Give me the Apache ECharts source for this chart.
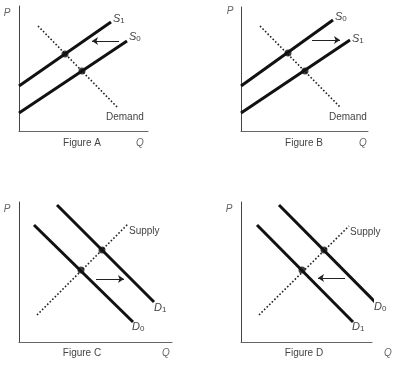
<!DOCTYPE html>
<html><head><meta charset="utf-8">
<script src="https://cdn.jsdelivr.net/npm/echarts@6/dist/echarts.min.js"></script>
<style>html,body{margin:0;padding:0;background:#fff}#c{width:399px;height:374px}</style>
</head><body><div id="c"></div>
<script>
// Data in each panel's own (Q, P) units.
// Figure A: supply decreases (S0 -> S1, shift left)
const aS0 = [[0,18],[108,90]];
const aS1 = [[0,45],[92,109]];
const aDemand = [[19,105],[99,23]];
const aEquilibria = [[46,77],[63,60]];
const aArrow = [[100,90],[73,90]];
// Figure B: supply increases (S0 -> S1, shift right)
const bS0 = [[0,45],[92,111]];
const bS1 = [[0,18],[109,91]];
const bDemand = [[19,105],[100,23]];
const bEquilibria = [[47,78],[64,60]];
const bArrow = [[71,91],[99,91]];
// Figure C: demand increases (D0 -> D1)
const cD0 = [[15,117],[114,20]];
const cD1 = [[38,137],[135,40]];
const cSupply = [[18,27],[109,118]];
const cEquilibria = [[83,92],[62,72]];
const cArrow = [[77,63],[105,63]];
// Figure D: demand decreases (D0 -> D1)
const dD0 = [[38,137],[134,40]];
const dD1 = [[16,117],[112,20]];
const dSupply = [[18,27],[108,116]];
const dEquilibria = [[83,92],[61,72]];
const dArrow = [[104,64],[77,64]];

const figureTitles = ['Figure A','Figure B','Figure C','Figure D'];
const axisNames = {p:'P', q:'Q'};

const FONT = '"Liberation Sans", Arial, sans-serif';
const layout = [
  {left:19, top:6, width:129, height:125, title:[82,143], p:[7,13], q:[140,143]},
  {left:241, top:7, width:127, height:124, title:[304,143], p:[230,11], q:[363,143]},
  {left:19, top:202, width:153, height:140, title:[82,353], p:[7,209], q:[166,353]},
  {left:241, top:202, width:131, height:140, title:[304,353], p:[229,209], q:[388,353]}
];

const rich = {
  s:{fontFamily:FONT, fontStyle:'italic', fontSize:11, color:'#444', lineHeight:12},
  n:{fontFamily:FONT, fontSize:8, color:'#444', lineHeight:12, verticalAlign:'bottom', padding:[5,0,0,0]}
};
function sub(letter, digit){ return '{s|'+letter+'}{n|'+digit+'}'; }

function thick(i, data, label, offset){
  return {type:'line', xAxisIndex:i, yAxisIndex:i, data:data, showSymbol:false, silent:true,
    lineStyle:{color:'#111', width:3}, z:3,
    endLabel:{show:true, formatter:label, rich:rich, distance:0, offset:offset}};
}
function dotted(i, data, label, offset){
  return {type:'line', xAxisIndex:i, yAxisIndex:i, data:data, showSymbol:false, silent:true,
    lineStyle:{color:'#222', width:1.6, type:[1.6,2]}, z:2,
    endLabel:{show:true, formatter:label, fontFamily:FONT, fontSize:10, color:'#444', distance:0, offset:offset}};
}
function dots(i, data){
  return {type:'scatter', xAxisIndex:i, yAxisIndex:i, data:data, symbolSize:7, itemStyle:{color:'#111'}, z:4, silent:true};
}
function arrow(i, data){
  return {type:'lines', coordinateSystem:'cartesian2d', xAxisIndex:i, yAxisIndex:i,
    data:[{coords:data}], symbol:['none','arrow'], symbolSize:6,
    lineStyle:{color:'#222', width:1, opacity:1}, z:5, silent:true};
}

const series = [
  thick(0, aS1, sub('S','1'), [2,-3]),
  thick(0, aS0, sub('S','0'), [2,-4]),
  dotted(0, aDemand, 'Demand', [-12,9]),
  dots(0, aEquilibria),
  arrow(0, aArrow),
  thick(1, bS0, sub('S','0'), [2,-3]),
  thick(1, bS1, sub('S','1'), [2,-1]),
  dotted(1, bDemand, 'Demand', [-12,9]),
  dots(1, bEquilibria),
  arrow(1, bArrow),
  thick(2, cD1, sub('D','1'), [0,6]),
  thick(2, cD0, sub('D','0'), [-1,5]),
  dotted(2, cSupply, 'Supply', [1,7]),
  dots(2, cEquilibria),
  arrow(2, cArrow),
  thick(3, dD0, sub('D','0'), [0,6]),
  thick(3, dD1, sub('D','1'), [-1,5]),
  dotted(3, dSupply, 'Supply', [1,6]),
  dots(3, dEquilibria),
  arrow(3, dArrow)
];

const axisCommon = {type:'value', min:0, axisTick:{show:false}, axisLabel:{show:false}, splitLine:{show:false}};
const grid = layout.map(g => ({left:g.left, top:g.top, width:g.width, height:g.height}));
const xAxis = layout.map((g,i) => Object.assign({}, axisCommon, {gridIndex:i, max:g.width,
  axisLine:{show:true, onZero:false, lineStyle:{color:'#666', width:1}}}));
const yAxis = layout.map((g,i) => Object.assign({}, axisCommon, {gridIndex:i, max:g.height,
  axisLine:{show:true, onZero:false, lineStyle:{color:'#444', width:1}}}));

const graphic = [];
layout.forEach((g,i) => {
  graphic.push({type:'text', x:g.title[0], y:g.title[1], style:{text:figureTitles[i], font:'10px '+FONT, fill:'#444', align:'center', verticalAlign:'middle'}});
  graphic.push({type:'text', x:g.p[0], y:g.p[1], style:{text:axisNames.p, font:'italic 10px '+FONT, fill:'#666', align:'center', verticalAlign:'middle'}});
  graphic.push({type:'text', x:g.q[0], y:g.q[1], style:{text:axisNames.q, font:'italic 10px '+FONT, fill:'#666', align:'center', verticalAlign:'middle'}});
});

const chart = echarts.init(document.getElementById('c'), null, {renderer:'canvas'});
chart.setOption({animation:false, backgroundColor:'#fff', grid, xAxis, yAxis, series, graphic});
</script></body></html>
